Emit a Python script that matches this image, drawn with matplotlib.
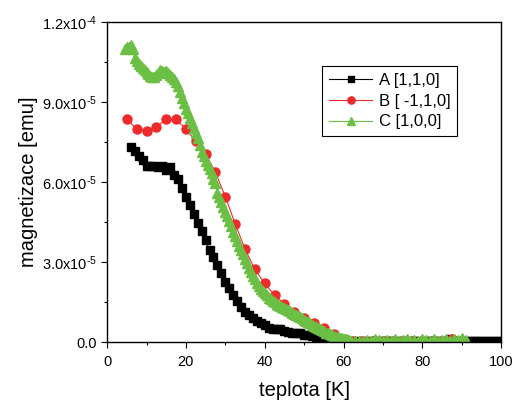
import matplotlib
matplotlib.use("Agg")
import matplotlib.pyplot as plt
from matplotlib.ticker import FixedLocator, FixedFormatter, MultipleLocator

plt.rcParams['font.family'] = ['Liberation Sans', 'DejaVu Sans']
plt.rcParams['mathtext.fontset'] = 'custom'
plt.rcParams['mathtext.rm'] = 'Liberation Sans'
plt.rcParams['mathtext.it'] = 'Liberation Sans'
plt.rcParams['mathtext.default'] = 'regular'

# Series A [1,1,0]  (temperature K, magnetization in 1e-6 emu)
a_t = [6, 7, 8, 9, 10, 11, 12, 13, 14, 15, 16, 17, 18, 19, 20, 21, 22, 23, 24, 25,
       26, 27, 28, 29, 30, 31, 32, 33, 34, 35, 36, 37, 38, 39, 40, 41, 42, 43, 44, 45,
       46, 47, 48, 49, 50, 51, 52, 53, 54, 55, 56, 57, 58, 59, 60, 61, 62, 63, 64, 65,
       66, 67, 68, 69, 70, 71, 72, 73, 74, 75, 76, 77, 78, 79, 80, 81, 82, 83, 84, 85,
       86, 87, 88, 89, 90, 91, 92, 93, 94, 95, 96, 97, 98, 99, 100]
a_m = [73, 71.5, 69.8, 68.3, 66.2, 66, 66, 65.5, 66, 64.7, 65.5, 62.5, 61, 57.8, 54.5, 51.5, 48.2, 44.5, 41.5, 38.2,
       34.5, 31.8, 28.8, 26, 22.5, 20.2, 17.8, 15.3, 13, 11.4, 10.1, 9, 7.9, 7.1, 6.3, 5.4, 4.9, 5, 4.8, 4.1,
       3.7, 3.5, 3.5, 3.4, 2.8, 2.5, 2.2, 1.9, 1.6, 1.3, 1.0, 0.7, 0.4, 0.2, 0.0, 0.2, 0.3, 0.2, 0.4, 0.3,
       0.2, 0.3, 0.4, 0.2, 0.3, 0.4, 0.3, 0.2, 0.4, 0.3, 0.2, 0.3, 0.4, 0.3, 0.2, 0.3, 0.4, 0.3, 0.5, 0.3,
       0.4, 1.0, 0.5, 0.4, 0.5, 0.6, 0.5, 0.6, 0.5, 0.6, 0.5, 0.6, 0.5, 0.6, 0.5]

# Series B [-1,1,0]
b_t = [5, 7.5, 10, 12.5, 15, 17.5, 20, 22.5, 25, 27.5, 30, 32.5, 35, 37.5, 40, 42.5, 45, 47.5,
       50, 52.5, 55, 57.5, 60, 62.5, 65, 67.5, 70, 72.5, 75, 77.5, 80, 82.5, 85, 87.5, 90]
b_m = [83.5, 80, 79, 80.7, 83.6, 83.5, 80, 75.3, 70.5, 63.7, 54.5, 44.4, 34.9, 27.3, 22, 17.6, 14.2, 11.4,
       8.9, 7.3, 5.2, 3, 0.8, 0.3, 0.6, 0.4, 0.3, 0.5, 0.3, 0.4, 0.3, 0.4, 0.5, 1.2, 0.4]

# Series C [1,0,0]
c_t = [4.5, 5, 5.5, 6, 6.5, 7, 7.5, 8, 8.5, 9, 9.5, 10, 10.5, 11, 11.5, 12, 12.5, 13, 13.5, 14,
       14.5, 15, 15.5, 16, 16.5, 17, 17.5, 18, 18.5, 19, 19.5, 20, 20.5, 21, 21.5, 22, 22.5, 23, 23.5, 24,
       24.5, 25, 25.5, 26, 26.5, 27, 27.5, 28, 28.5, 29, 29.5, 30, 30.5, 31, 31.5, 32, 32.5, 33, 33.5, 34,
       34.5, 35, 35.5, 36, 36.5, 37, 37.5, 38, 38.5, 39, 39.5, 40, 40.5, 41, 41.5, 42, 42.5, 43, 43.5, 44,
       44.5, 45, 45.5, 46, 46.5, 47, 47.5, 48, 48.5, 49, 49.5, 50, 50.5, 51, 51.5, 52, 52.5, 53, 53.5, 54,
       54.5, 55, 55.5, 56, 56.5, 57, 57.5, 58, 58.5, 59, 59.5, 60, 60.5, 61, 61.5, 62, 63, 64, 65, 66,
       67, 68, 69, 70, 71, 72, 73, 74, 75, 76, 77, 78, 79, 80, 81, 82, 83, 84, 85, 86,
       87, 88, 89, 90, 91]
c_m = [110.1, 110.5, 110.8, 111.4, 110, 106.5, 105.3, 104.3, 103.5, 102.8, 102, 101.3, 100.7, 99.8, 99.3, 99.6, 100.1, 101, 102, 101.5,
       101.4, 101.6, 101, 100.3, 99.4, 98.6, 97.6, 96, 93.9, 91.5, 89.6, 87.6, 86, 84.2, 82.3, 80.4, 78.5, 76.6, 74, 71.4,
       69.7, 68, 66.4, 65, 63.6, 61, 59.6, 56, 54.4, 52.5, 50.7, 48.7, 47.4, 45.6, 43.7, 41.4, 39.7, 37.9, 36.2, 34.6,
       32.9, 31.2, 29.5, 27.9, 26.2, 24.8, 23.5, 22.3, 21.2, 20.1, 19.2, 18.4, 17.5, 16.7, 16, 15.4, 14.9, 14.4, 14, 13.7,
       13.3, 12.9, 12.4, 12, 11.6, 11.1, 10.7, 10.2, 9.8, 9.4, 8.9, 8.4, 7.9, 7.4, 7, 6.6, 6.1, 5.7, 5.3, 4.8,
       4.4, 4, 3.6, 3.3, 2.9, 2.6, 2.3, 2, 1.8, 1.6, 1.4, 1.2, 1.1, 1.0, 0.9, 0.6, 0.4, 0.3, 0.6, 0.9,
       0.5, 1.3, 0.7, 0.5, 0.9, 0.6, 1.0, 0.5, 0.8, 1.2, 0.6, 0.9, 0.5, 1.0, 0.7, 0.6, 1.1, 0.5, 0.8, 1.3,
       0.6, 1.0, 0.9, 1.4, 0.8]

y_ticks = [0, 30e-6, 60e-6, 90e-6, 120e-6]
y_tick_labels = ['0.0', '3.0x10$^{\u2010 5}$', '6.0x10$^{\u2010 5}$',
                 '9.0x10$^{\u2010 5}$', '1.2x10$^{\u2010 4}$']
x_ticks = [0, 20, 40, 60, 80, 100]

black = '#000000'
red = '#ee2a2a'
green = '#6cbf45'

fig = plt.figure(figsize=(5.15, 4.03), dpi=100)
ax = fig.add_axes([0.208, 0.151, 0.765, 0.794])

ax.plot(a_t, [v * 1e-6 for v in a_m], color=black, lw=0.8, marker='s', ms=5.5,
        mec=black, mfc=black, label='A [1,1,0]')
ax.plot(b_t, [v * 1e-6 for v in b_m], color=red, lw=0.8, marker='o', ms=6.5,
        mec=red, mfc=red, label='B [ -1,1,0]')
ax.plot(c_t, [v * 1e-6 for v in c_m], color=green, lw=0.8, marker='^', ms=6.5,
        mec=green, mfc=green, label='C [1,0,0]')

ax.set_xlim(0, 100)
ax.set_ylim(0, 120e-6)
ax.yaxis.set_major_locator(FixedLocator(y_ticks))
ax.yaxis.set_major_formatter(FixedFormatter(y_tick_labels))
ax.yaxis.set_minor_locator(MultipleLocator(15e-6))
ax.xaxis.set_major_locator(FixedLocator(x_ticks))
ax.xaxis.set_minor_locator(MultipleLocator(10))
ax.tick_params(which='major', direction='out', length=4, width=0.8, labelsize=10.5)
ax.tick_params(axis='x', which='major', pad=5)
ax.tick_params(which='minor', direction='out', length=2.5, width=0.8)
for s in ax.spines.values():
    s.set_linewidth(1.0)

ax.set_xlabel('teplota [K]', fontsize=14.5, labelpad=9)
ax.set_ylabel('magnetizace [emu]', fontsize=14.5, labelpad=3)

leg = ax.legend(loc='upper left', bbox_to_anchor=(0.546, 0.8625), fontsize=12,
                frameon=True, fancybox=False, edgecolor='black', framealpha=1,
                borderaxespad=0, handlelength=2.6, handletextpad=0.4,
                borderpad=0.4, labelspacing=0.35, markerscale=0.8)
leg.get_frame().set_linewidth(0.8)

fig.savefig('out.png', dpi=100)
